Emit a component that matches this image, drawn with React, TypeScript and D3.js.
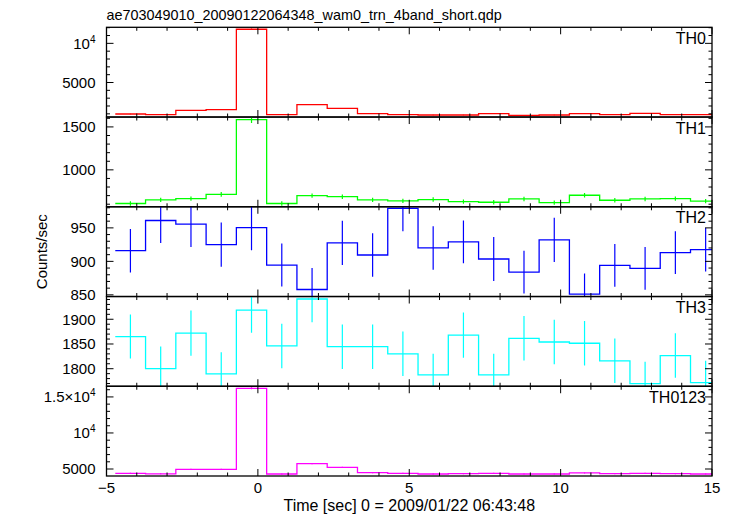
import React, { useEffect, useRef } from "react";
import * as d3 from "d3";

// bin centres [sec], 1 s bins
const timeCenters = [
  -4.21, -3.21, -2.21, -1.21, -0.21, 0.79, 1.79, 2.79, 3.79, 4.79,
  5.79, 6.79, 7.79, 8.79, 9.79, 10.79, 11.79, 12.79, 13.79, 14.79,
];

const th0Rates = [980, 893, 1450, 1534, 11800, 893, 2175, 1705, 1020, 893, 850, 850, 1020, 810, 850, 1020, 893, 1064, 893, 893];
const th0Errors = [31, 30, 38, 39, 109, 30, 47, 41, 32, 30, 29, 29, 32, 28, 29, 32, 30, 33, 30, 30];

const th1Rates = [608, 650, 665, 715, 1585, 608, 700, 688, 650, 638, 654, 631, 623, 661, 619, 704, 646, 661, 665, 635];
const th1Errors = [25, 25, 26, 27, 40, 25, 26, 26, 25, 25, 26, 25, 25, 26, 25, 27, 25, 26, 26, 25];

const th2Rates = [916, 961, 955.5, 925, 950.5, 894.5, 858, 927.5, 909.5, 979, 920, 929, 903.5, 884, 932, 851, 894, 889.5, 913, 917.5];
const th2Errors = [32.5, 33.5, 34, 33, 34, 32, 32, 33, 32.5, 34, 32.5, 32, 33, 32, 33, 31, 32, 32, 32, 32.5];

const th3Rates = [1865, 1800, 1872, 1789.5, 1918.5, 1846, 1941, 1844.5, 1844.5, 1830, 1787.5, 1868, 1787.5, 1861.5, 1854, 1851.5, 1816, 1770, 1826.5, 1772];
const th3Errors = [44.6, 45, 45.6, 44, 46, 45, 47, 45, 45, 45, 43, 45.6, 43, 45, 45, 45, 45, 44, 45, 44];

const th0123Rates = [4400, 4330, 4960, 4960, 16200, 4310, 5740, 5230, 4490, 4400, 4310, 4350, 4400, 4310, 4310, 4450, 4350, 4400, 4350, 4310];
const th0123Errors = [66, 66, 70, 70, 127, 66, 76, 72, 67, 66, 66, 66, 66, 66, 66, 67, 66, 66, 66, 66];

const panelNames = ["TH0", "TH1", "TH2", "TH3", "TH0123"];
const panelColors = ["#ff0000", "#00ff00", "#0000ff", "#00ffff", "#ff00ff"];
const panelDomains: [number, number][] = [
  [590, 12050],
  [570, 1615],
  [847.5, 981.5],
  [1764.5, 1946],
  [4030, 16480],
];
const panelMajorTicks = [
  [5000, 10000],
  [1000, 1500],
  [850, 900, 950],
  [1800, 1850, 1900],
  [5000, 10000, 15000],
];
const panelTickLabels = [
  ["5000", "10^4"],
  ["1000", "1500"],
  ["850", "900", "950"],
  ["1800", "1850", "1900"],
  ["5000", "10^4", "1.5\u00d710^4"],
];
const panelMinorSteps = [1000, 100, 10, 10, 1000];

const xTicks = [-5, 0, 5, 10, 15];
const xTickLabels = ["\u22125", "0", "5", "10", "15"];

const titleText = "ae703049010_20090122064348_wam0_trn_4band_short.qdp";
const xLabel = "Time [sec] 0 = 2009/01/22 06:43:48";
const yLabel = "Counts/sec";

const App: React.FC = () => {
  const svgRef = useRef<SVGSVGElement | null>(null);

  useEffect(() => {
    if (!svgRef.current) return;
    const width = 733;
    const height = 516;
    const left = 106.5;
    const right = 712;
    const top = 27.3;
    const bottom = 476;
    const panelH = (bottom - top) / 5;
    const font = "Liberation Sans, Arial, Helvetica, sans-serif";

    const series = [
      { rates: th0Rates, errors: th0Errors },
      { rates: th1Rates, errors: th1Errors },
      { rates: th2Rates, errors: th2Errors },
      { rates: th3Rates, errors: th3Errors },
      { rates: th0123Rates, errors: th0123Errors },
    ];

    const svg = d3.select(svgRef.current);
    svg.selectAll("*").remove();
    svg.append("rect").attr("width", width).attr("height", height).attr("fill", "#fff");

    const x = d3.scaleLinear().domain([-5, 15]).range([left, right]);
    const defs = svg.append("defs");

    const addLabel = (
      g: d3.Selection<SVGGElement, unknown, null, undefined>,
      label: string,
      tx: number,
      ty: number,
      anchor: string
    ) => {
      const t = g
        .append("text")
        .attr("x", tx)
        .attr("y", ty)
        .attr("text-anchor", anchor)
        .attr("font-family", font)
        .attr("font-size", "15px")
        .attr("fill", "#000");
      const parts = label.split("^");
      t.append("tspan").text(parts[0]);
      if (parts[1]) {
        t.append("tspan").attr("dy", -6).attr("font-size", "10px").text(parts[1]);
      }
    };

    series.forEach((s, i) => {
      const y0 = top + i * panelH;
      const y1 = y0 + panelH;
      const y = d3.scaleLinear().domain(panelDomains[i]).range([y1, y0]);
      const g = svg.append("g");

      defs
        .append("clipPath")
        .attr("id", `clip${i}`)
        .append("rect")
        .attr("x", left)
        .attr("y", y0)
        .attr("width", right - left)
        .attr("height", y1 - y0);

      const data = g.append("g").attr("clip-path", `url(#clip${i})`);

      // histogram steps
      const pts: [number, number][] = [];
      s.rates.forEach((v, j) => {
        pts.push([x(timeCenters[j] - 0.5), y(v)]);
        pts.push([x(timeCenters[j] + 0.5), y(v)]);
      });
      data
        .append("path")
        .attr("d", d3.line()(pts) || "")
        .attr("fill", "none")
        .attr("stroke", panelColors[i])
        .attr("stroke-width", 1.3);

      // error bars
      data
        .selectAll("line.err")
        .data(s.rates)
        .join("line")
        .attr("class", "err")
        .attr("x1", (_d, j) => x(timeCenters[j]))
        .attr("x2", (_d, j) => x(timeCenters[j]))
        .attr("y1", (d, j) => y(d - s.errors[j]))
        .attr("y2", (d, j) => y(d + s.errors[j]))
        .attr("stroke", panelColors[i])
        .attr("stroke-width", 1.2);

      // y ticks (both sides, inward)
      const [lo, hi] = panelDomains[i];
      const step = panelMinorSteps[i];
      const minors = d3
        .range(Math.ceil(lo / step) * step, hi, step)
        .filter((v) => !panelMajorTicks[i].includes(v));
      const axisG = g.append("g").attr("stroke", "#000").attr("stroke-width", 1);
      minors.forEach((v) => {
        axisG.append("line").attr("x1", left).attr("x2", left + 3.5).attr("y1", y(v)).attr("y2", y(v));
        axisG.append("line").attr("x1", right).attr("x2", right - 3.5).attr("y1", y(v)).attr("y2", y(v));
      });
      panelMajorTicks[i].forEach((v, k) => {
        axisG.append("line").attr("x1", left).attr("x2", left + 7).attr("y1", y(v)).attr("y2", y(v));
        axisG.append("line").attr("x1", right).attr("x2", right - 7).attr("y1", y(v)).attr("y2", y(v));
        addLabel(g, panelTickLabels[i][k], left - 11, y(v) + 5.3, "end");
      });

      // x ticks on top and bottom of each panel
      d3.range(-5, 16, 1).forEach((t) => {
        const len = t % 5 === 0 ? 7 : 3.5;
        axisG.append("line").attr("x1", x(t)).attr("x2", x(t)).attr("y1", y0).attr("y2", y0 + len);
        axisG.append("line").attr("x1", x(t)).attr("x2", x(t)).attr("y1", y1).attr("y2", y1 - len);
      });

      // frame
      g.append("rect")
        .attr("x", left)
        .attr("y", y0)
        .attr("width", right - left)
        .attr("height", y1 - y0)
        .attr("fill", "none")
        .attr("stroke", "#000")
        .attr("stroke-width", 1.3);

      g.append("text")
        .attr("x", right - 6)
        .attr("y", y0 + 16.5)
        .attr("text-anchor", "end")
        .attr("font-family", font)
        .attr("font-size", "16px")
        .text(panelNames[i]);
    });

    // x tick labels
    xTicks.forEach((t, k) => {
      svg
        .append("text")
        .attr("x", x(t))
        .attr("y", bottom + 16.5)
        .attr("text-anchor", "middle")
        .attr("font-family", font)
        .attr("font-size", "15px")
        .text(xTickLabels[k]);
    });

    svg
      .append("text")
      .attr("x", (left + right) / 2)
      .attr("y", bottom + 35)
      .attr("text-anchor", "middle")
      .attr("font-family", font)
      .attr("font-size", "16px")
      .text(xLabel);

    svg
      .append("text")
      .attr("transform", `translate(47, ${(top + bottom) / 2}) rotate(-90)`)
      .attr("text-anchor", "middle")
      .attr("font-family", font)
      .attr("font-size", "15px")
      .text(yLabel);

    svg
      .append("text")
      .attr("x", left)
      .attr("y", 20)
      .attr("font-family", font)
      .attr("font-size", "14.4px")
      .text(titleText);
  }, []);

  return (
    <svg
      ref={svgRef}
      width={733}
      height={516}
      style={{ position: "absolute", left: 0, top: 0, display: "block" }}
    ></svg>
  );
};

export default App;
